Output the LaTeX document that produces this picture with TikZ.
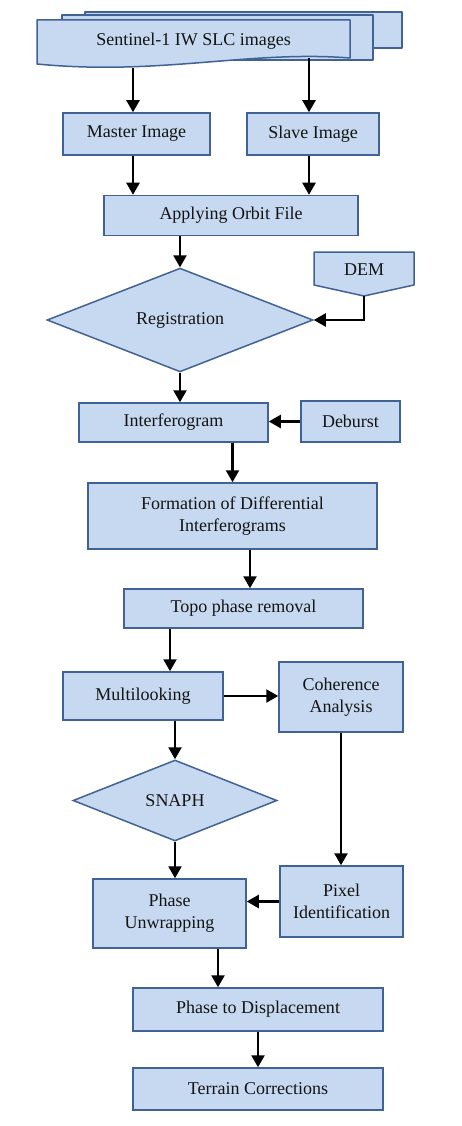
\documentclass[tikz,border=0pt]{standalone}
\usepackage{fontspec}
\setmainfont{Liberation Serif}
\usetikzlibrary{shapes.geometric,arrows.meta}
\definecolor{fillc}{RGB}{198,217,240}
\definecolor{bordc}{RGB}{65,98,148}
\definecolor{txtc}{RGB}{20,20,20}
\begin{document}
\begin{tikzpicture}[x=1pt,y=-1pt,
  lbl/.style={font=\fontsize{18}{22}\selectfont, text=txtc, align=center, inner sep=0pt},
  box/.style={lbl, draw=bordc, fill=fillc, line width=1.5pt, rectangle},
  dia/.style={lbl, draw=bordc, fill=fillc, line width=1.5pt, diamond},
  arr/.style={-{Triangle[length=12pt,width=13pt]}, line width=2.3pt, black},
  docshape/.style={draw=bordc, fill=fillc, line width=1.5pt, line join=round}
]
\useasboundingbox (0,0) rectangle (461,1126);

% multi-document
\draw[docshape] (85,12) rectangle (402,48);
\draw[docshape] (62,15) rectangle (373,60);
\draw[docshape] (37,20) -- (350,20) -- (350,58)
  .. controls (250,50) and (160,76) .. (37,64) -- cycle;
\node[lbl] (sent) at (193.5,41) {Sentinel-1 IW SLC images};
\coordinate (s1) at (133,68);
\coordinate (s2) at (309,58);

\node[box, minimum width=147, minimum height=42] (master) at (136.5,134) {Master Image};
\node[box, minimum width=132, minimum height=42] (slave) at (313,134) {Slave Image};
\node[box, minimum width=254, minimum height=40] (orbit) at (231,215.5) {Applying Orbit File};

\node[dia, minimum width=266, minimum height=86] (reg) at (180,320) {Registration};

% DEM off-page connector
\draw[docshape] (314,252) -- (414,252) -- (414,285) -- (364,296) -- (314,285) -- cycle;
\node[lbl] (dem) at (364,270) {DEM};
\coordinate (demtip) at (364,296);

\node[box, minimum width=189, minimum height=39] (interf) at (173.5,422.5) {Interferogram};
\node[box, minimum width=99, minimum height=41] (deburst) at (350.5,421.5) {Deburst};

\node[box, minimum width=289, minimum height=66] (form) at (232.5,516) {Formation of Differential\\Interferograms};
\node[box, minimum width=239, minimum height=39] (topo) at (243.5,608.5) {Topo phase removal};

\node[box, minimum width=160, minimum height=48] (multi) at (143,696) {Multilooking};
\node[box, minimum width=124, minimum height=70] (coh) at (341,697) {Coherence\\Analysis};

\node[dia, minimum width=204, minimum height=81] (snaph) at (175,800.5) {SNAPH};

\node[box, minimum width=153, minimum height=69] (pu) at (169.5,913.5) {Phase\\Unwrapping};
\node[box, minimum width=123, minimum height=71] (pix) at (341.5,901.5) {Pixel\\Identification};

\node[box, minimum width=250, minimum height=43] (ptd) at (258,1009.5) {Phase to Displacement};
\node[box, minimum width=250, minimum height=42] (terr) at (258,1089) {Terrain Corrections};

% connectors
\draw[arr] (s1) -- (s1 |- master.north);
\draw[arr] (s2) -- (s2 |- slave.north);
\draw[arr] ([xshift=-3.5pt]master.south) coordinate (m1) -- (m1 |- orbit.north);
\draw[arr] ([xshift=-4pt]slave.south) coordinate (m2) -- (m2 |- orbit.north);
\draw[arr] (reg.north |- orbit.south) -- (reg.north);
\draw[arr] (demtip) |- (reg.east);
\draw[arr] (reg.south) -- (reg.south |- interf.north);
\draw[arr] (deburst.west) -- (deburst.west -| interf.east);
\draw[arr] (interf.south -| form.north) -- (form.north);
\draw[arr] ([xshift=17.5pt]form.south) coordinate (f1) -- (f1 |- topo.north);
\draw[arr] ([xshift=-73.5pt]topo.south) coordinate (t1) -- (t1 |- multi.north);
\draw[arr] (multi.east) -- (multi.east -| coh.west);
\draw[arr] (multi.south -| snaph.north) -- (snaph.north);
\draw[arr] (coh.south) -- (coh.south |- pix.north);
\draw[arr] (snaph.south) -- (snaph.south |- pu.north);
\draw[arr] (pix.west) -- (pix.west -| pu.east);
\draw[arr] ([xshift=48.5pt]pu.south) coordinate (p1) -- (p1 |- ptd.north);
\draw[arr] (ptd.south) -- (terr.north);
\end{tikzpicture}
\end{document}
